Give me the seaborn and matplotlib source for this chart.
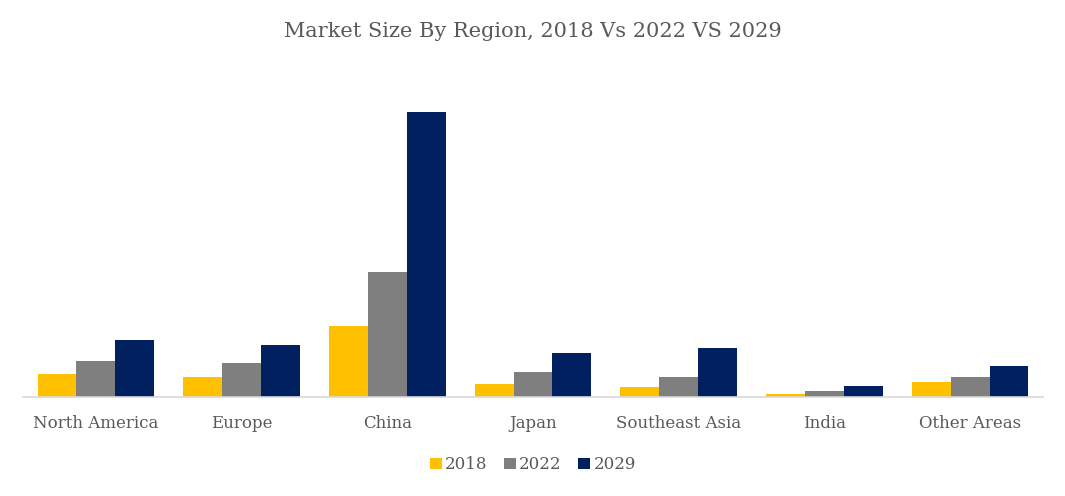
import numpy as np
import pandas as pd
import matplotlib
matplotlib.use("Agg")
import matplotlib.pyplot as plt
import seaborn as sns

regions = ["North America", "Europe", "China", "Japan", "Southeast Asia", "India", "Other Areas"]
years = ["2018", "2022", "2029"]
v2018 = [23, 20, 71, 13, 10, 3, 15]
v2022 = [36, 34, 125, 25, 20, 6, 20]
v2029 = [57, 52, 285, 44, 49, 11, 31]

colors = ["#FFC000", "#7F7F7F", "#002060"]
text_col = "#595959"

df = pd.DataFrame({"Region": regions * 3,
                   "Year": np.repeat(years, len(regions)),
                   "Value": v2018 + v2022 + v2029})

sns.set_style("white")
plt.rcParams["font.family"] = ["DejaVu Serif"]

fig = plt.figure(figsize=(10.65, 4.96), dpi=100)
ax = fig.add_axes([23 / 1065, 99 / 496, 1020 / 1065, 302 / 496])

sns.barplot(data=df, x="Region", y="Value", hue="Year", palette=colors,
            width=0.8, saturation=1, linewidth=0, ax=ax, legend=True)

ax.set_ylim(0, 302)
ax.set_xlim(-0.5, len(regions) - 0.5)
ax.set_yticks([])
ax.set_xlabel("")
ax.set_ylabel("")
for s in ["top", "right", "left"]:
    ax.spines[s].set_visible(False)
ax.spines["bottom"].set_color("#D9D9D9")
ax.spines["bottom"].set_linewidth(1.2)
ax.tick_params(axis="x", length=0, pad=13, labelsize=12, labelcolor=text_col)

fig.suptitle("Market Size By Region, 2018 Vs 2022 VS 2029", y=0.955,
             fontsize=15, color=text_col)

leg = ax.legend(loc="center", bbox_to_anchor=(0.5, -0.225), ncol=3, frameon=False,
                fontsize=12, handlelength=0.7, handleheight=0.7, handletextpad=0.2,
                columnspacing=1.0)
for t in leg.get_texts():
    t.set_color(text_col)

fig.savefig("out.png", dpi=100)
